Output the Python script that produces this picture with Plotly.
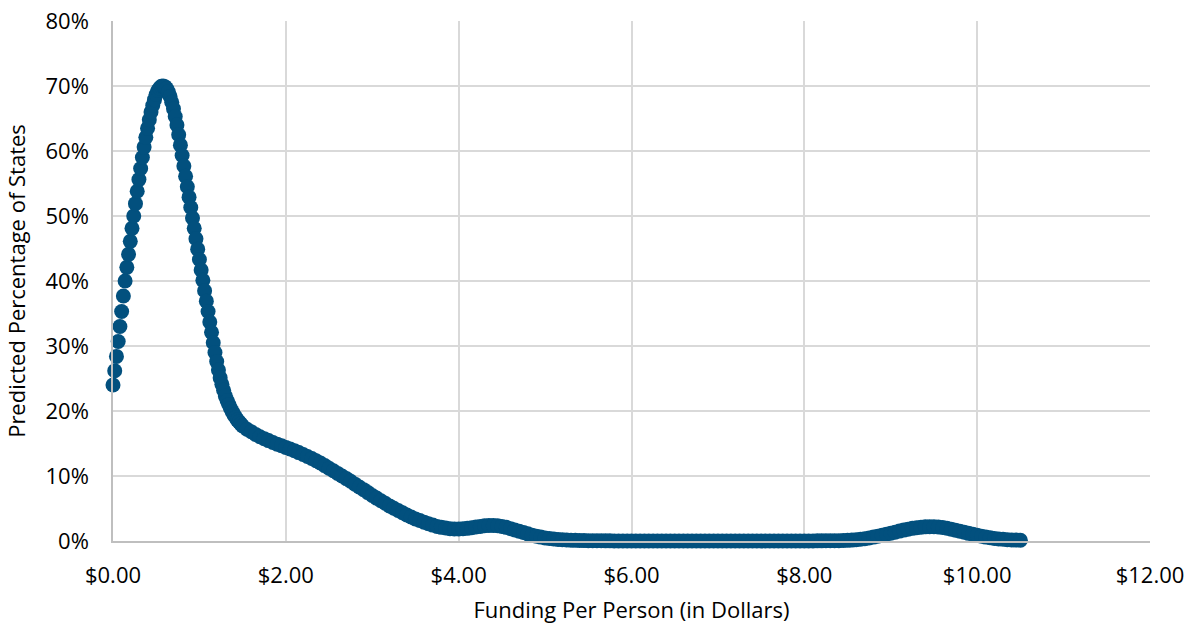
import plotly.graph_objects as go

# Funding per person (dollars), fine sampling around the peak
x_steep = [0.00, 0.02, 0.04, 0.06, 0.08, 0.10, 0.12, 0.14, 0.16, 0.18,
           0.20, 0.22, 0.24, 0.26, 0.28, 0.30, 0.32, 0.34, 0.36, 0.38,
           0.40, 0.42, 0.44, 0.46, 0.48, 0.50, 0.52, 0.54, 0.56, 0.58,
           0.60, 0.62, 0.64, 0.66, 0.68, 0.70, 0.72, 0.74, 0.76, 0.78,
           0.80, 0.82, 0.84, 0.86, 0.88, 0.90, 0.92, 0.94, 0.96, 0.98,
           1.00, 1.02, 1.04, 1.06, 1.08, 1.10, 1.12, 1.14, 1.16, 1.18,
           1.20, 1.22, 1.24, 1.26, 1.28, 1.30, 1.32, 1.34, 1.36, 1.38,
           1.40, 1.42, 1.44, 1.46, 1.48, 1.50]
# Predicted percentage of states (%)
y_steep = [24.0, 26.2, 28.4, 30.7, 33.0, 35.3, 37.7, 40.0, 42.1, 44.1,
           46.1, 48.1, 50.0, 51.9, 53.8, 55.6, 57.3, 59.0, 60.6, 62.1,
           63.5, 64.8, 66.0, 67.0, 67.9, 68.7, 69.3, 69.7, 69.95, 70.0,
           69.9, 69.6, 69.1, 68.4, 67.5, 66.5, 65.3, 64.0, 62.5, 60.9,
           59.3, 57.7, 56.1, 54.5, 52.9, 51.3, 49.7, 48.1, 46.5, 44.9,
           43.3, 41.7, 40.1, 38.5, 36.9, 35.3, 33.7, 32.1, 30.5, 29.0,
           27.6, 26.3, 25.1, 24.1, 23.2, 22.3, 21.6, 21.0, 20.4, 19.9,
           19.4, 19.0, 18.6, 18.3, 18.0, 17.7]

x_tail = [1.55, 1.60, 1.65, 1.70, 1.75, 1.80, 1.85, 1.90, 1.95, 2.00,
          2.05, 2.10, 2.15, 2.20, 2.25, 2.30, 2.35, 2.40, 2.45, 2.50,
          2.55, 2.60, 2.65, 2.70, 2.75, 2.80, 2.85, 2.90, 2.95, 3.00,
          3.05, 3.10, 3.15, 3.20, 3.25, 3.30, 3.35, 3.40, 3.45, 3.50,
          3.55, 3.60, 3.65, 3.70, 3.75, 3.80, 3.85, 3.90, 3.95, 4.00,
          4.05, 4.10, 4.15, 4.20, 4.25, 4.30, 4.35, 4.40, 4.45, 4.50,
          4.55, 4.60, 4.65, 4.70, 4.75, 4.80, 4.85, 4.90, 4.95, 5.00,
          5.05, 5.10, 5.15, 5.20, 5.25, 5.30, 5.35, 5.40, 5.45, 5.50,
          5.55, 5.60, 5.65, 5.70, 5.75, 5.80, 5.85, 5.90, 5.95, 6.00,
          6.05, 6.10, 6.15, 6.20, 6.25, 6.30, 6.35, 6.40, 6.45, 6.50,
          6.55, 6.60, 6.65, 6.70, 6.75, 6.80, 6.85, 6.90, 6.95, 7.00,
          7.05, 7.10, 7.15, 7.20, 7.25, 7.30, 7.35, 7.40, 7.45, 7.50,
          7.55, 7.60, 7.65, 7.70, 7.75, 7.80, 7.85, 7.90, 7.95, 8.00,
          8.05, 8.10, 8.15, 8.20, 8.25, 8.30, 8.35, 8.40, 8.45, 8.50,
          8.55, 8.60, 8.65, 8.70, 8.75, 8.80, 8.85, 8.90, 8.95, 9.00,
          9.05, 9.10, 9.15, 9.20, 9.25, 9.30, 9.35, 9.40, 9.45, 9.50,
          9.55, 9.60, 9.65, 9.70, 9.75, 9.80, 9.85, 9.90, 9.95, 10.00,
          10.05, 10.10, 10.15, 10.20, 10.25, 10.30, 10.35, 10.40, 10.45, 10.50]
y_tail = [17.2, 16.8, 16.4, 16.05, 15.75, 15.45, 15.15, 14.9, 14.65, 14.4,
          14.15, 13.9, 13.6, 13.3, 13.0, 12.7, 12.35, 12.0, 11.6, 11.2,
          10.8, 10.4, 10.0, 9.6, 9.2, 8.75, 8.3, 7.9, 7.45, 7.0,
          6.6, 6.2, 5.8, 5.4, 5.05, 4.7, 4.35, 4.0, 3.7, 3.4,
          3.15, 2.9, 2.65, 2.45, 2.25, 2.1, 2.0, 1.9, 1.85, 1.85,
          1.9, 1.95, 2.05, 2.15, 2.25, 2.35, 2.4, 2.4, 2.35, 2.25,
          2.1, 1.9, 1.7, 1.5, 1.3, 1.1, 0.9, 0.75, 0.6, 0.48,
          0.38, 0.3, 0.24, 0.19, 0.15, 0.12, 0.1, 0.08, 0.06, 0.05,
          0.04, 0.03, 0.03, 0.02, 0.02, 0.01, 0.01, 0.01, 0.0, 0.0,
          0.0, 0.0, 0.0, 0.0, 0.0, 0.0, 0.0, 0.0, 0.0, 0.0,
          0.0, 0.0, 0.0, 0.0, 0.0, 0.0, 0.0, 0.0, 0.0, 0.0,
          0.0, 0.0, 0.0, 0.0, 0.0, 0.0, 0.0, 0.0, 0.0, 0.0,
          0.0, 0.0, 0.0, 0.0, 0.0, 0.0, 0.0, 0.0, 0.0, 0.01,
          0.01, 0.01, 0.02, 0.02, 0.03, 0.04, 0.04, 0.05, 0.07, 0.1,
          0.14, 0.2, 0.27, 0.36, 0.47, 0.6, 0.75, 0.9, 1.05, 1.2,
          1.35, 1.52, 1.68, 1.82, 1.95, 2.05, 2.13, 2.18, 2.2, 2.2,
          2.16, 2.08, 1.96, 1.82, 1.66, 1.5, 1.34, 1.18, 1.02, 0.87,
          0.73, 0.6, 0.49, 0.4, 0.32, 0.26, 0.21, 0.17, 0.14, 0.12]

x_ticks = [0, 2, 4, 6, 8, 10, 12]
x_tick_labels = ["$0.00", "$2.00", "$4.00", "$6.00", "$8.00", "$10.00", "$12.00"]
y_ticks = [0, 10, 20, 30, 40, 50, 60, 70, 80]
y_tick_labels = ["0%", "10%", "20%", "30%", "40%", "50%", "60%", "70%", "80%"]

x_vals = x_steep + x_tail
y_vals = y_steep + y_tail

fig = go.Figure(go.Scatter(
    x=x_vals, y=y_vals, mode="markers",
    marker=dict(size=15, color="#02507E", line=dict(width=0)),
    cliponaxis=False, hoverinfo="x+y",
))

font_family = "'Open Sans', Lato, sans-serif"
fig.update_layout(
    width=1195, height=628,
    margin=dict(l=113, r=45, t=21, b=87),
    paper_bgcolor="white", plot_bgcolor="white",
    font=dict(family=font_family, size=22, color="#000000"),
    showlegend=False,
    xaxis=dict(
        range=[0, 12], tickvals=x_ticks, ticktext=x_tick_labels,
        showgrid=True, gridcolor="#d9d9d9", gridwidth=1.5,
        showline=True, linecolor="#bfbfbf", linewidth=1.5,
        zeroline=False, ticks="", ticklen=0, ticklabelstandoff=14,
        tickfont=dict(size=22), automargin=False,
        title=dict(text="Funding Per Person (in Dollars)", font=dict(size=22), standoff=14),
    ),
    yaxis=dict(
        range=[0, 80], tickvals=y_ticks, ticktext=y_tick_labels,
        showgrid=True, gridcolor="#d9d9d9", gridwidth=1.5,
        showline=True, linecolor="#bfbfbf", linewidth=1.5,
        zeroline=False, ticks="", ticklen=0, ticklabelstandoff=18,
        tickfont=dict(size=22), automargin=False,
        title=dict(text="Predicted Percentage of States", font=dict(size=22), standoff=14),
    ),
)

fig.write_html("out.html")
